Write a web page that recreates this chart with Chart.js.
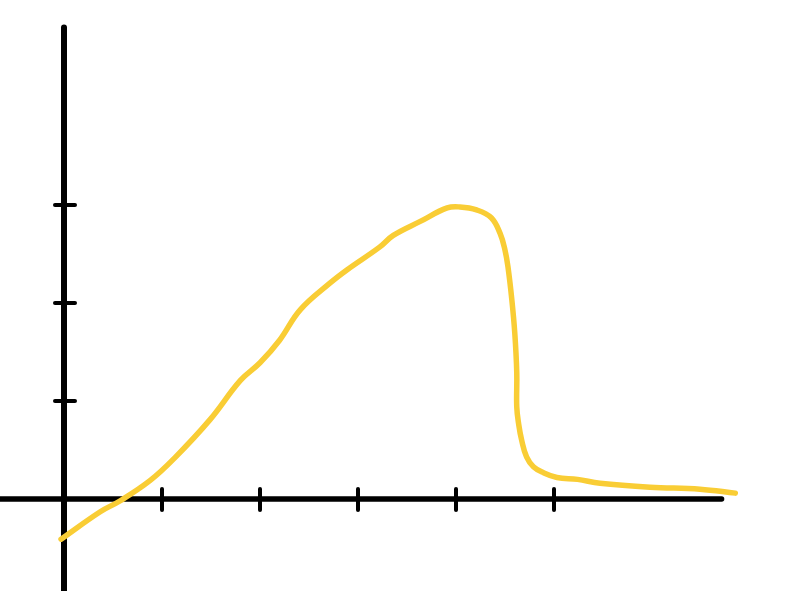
<!DOCTYPE html>
<html>
<head>
<meta charset="utf-8">
<script src="https://cdn.jsdelivr.net/npm/chart.js@4/dist/chart.umd.min.js"></script>
<style>
  html, body { margin: 0; padding: 0; background: #fff; }
  #wrap { width: 800px; height: 591px; position: relative; }
</style>
</head>
<body>
<div id="wrap"><canvas id="c"></canvas></div>
<script>
// Curve samples (x, y), in axis units
const curveX = [-0.03, 0.37, 0.57, 0.88, 1.13, 1.49, 1.80, 2.00, 2.20, 2.41, 2.71, 2.89, 3.22, 3.36, 3.63, 3.91, 4.04, 4.21, 4.36, 4.45, 4.50, 4.53, 4.57, 4.60, 4.62, 4.62, 4.64, 4.67, 4.72, 4.79, 4.89, 5.03, 5.24, 5.47, 5.98, 6.49, 6.85];
const curveY = [-0.41, -0.13, -0.02, 0.19, 0.42, 0.81, 1.21, 1.39, 1.62, 1.93, 2.20, 2.34, 2.57, 2.69, 2.83, 2.97, 2.98, 2.95, 2.87, 2.71, 2.54, 2.37, 2.03, 1.69, 1.29, 0.94, 0.76, 0.60, 0.43, 0.33, 0.27, 0.22, 0.20, 0.16, 0.12, 0.10, 0.06];

// Axis tick positions (unlabelled hand-drawn marks)
const xTicks = [1, 2, 3, 4, 5];
const yTicks = [1, 2, 3];

// Axis extents in axis units
const xAxisEnd = 6.71;
const yAxisTop = 4.81;

const points = curveX.map((x, i) => ({ x: x, y: curveY[i] }));

const axesPlugin = {
  id: 'handAxes',
  beforeDatasetsDraw(chart) {
    const ctx = chart.ctx;
    const xs = chart.scales.x, ys = chart.scales.y;
    const x0 = xs.getPixelForValue(0), y0 = ys.getPixelForValue(0);
    ctx.save();
    ctx.strokeStyle = '#000';
    ctx.lineCap = 'round';
    // x axis
    ctx.lineWidth = 5.5;
    ctx.beginPath();
    ctx.moveTo(xs.getPixelForValue(xs.min), y0);
    ctx.lineTo(xs.getPixelForValue(xAxisEnd), y0);
    ctx.stroke();
    // y axis
    ctx.lineWidth = 6;
    ctx.beginPath();
    ctx.moveTo(x0, ys.getPixelForValue(yAxisTop));
    ctx.lineTo(x0, ys.getPixelForValue(ys.min) + 10);
    ctx.stroke();
    // x ticks
    ctx.lineWidth = 4;
    xTicks.forEach(v => {
      const px = xs.getPixelForValue(v);
      ctx.beginPath();
      ctx.moveTo(px, y0 - 10);
      ctx.lineTo(px, y0 + 11);
      ctx.stroke();
    });
    // y ticks
    yTicks.forEach(v => {
      const py = ys.getPixelForValue(v);
      ctx.beginPath();
      ctx.moveTo(x0 - 9, py);
      ctx.lineTo(x0 + 11, py);
      ctx.stroke();
    });
    ctx.restore();
  }
};

new Chart(document.getElementById('c'), {
  type: 'line',
  data: {
    datasets: [{
      data: points,
      borderColor: '#F9CD35',
      borderWidth: 5.5,
      pointRadius: 0,
      fill: false,
      tension: 0.4,
      borderCapStyle: 'round',
      borderJoinStyle: 'round'
    }]
  },
  options: {
    responsive: true,
    maintainAspectRatio: false,
    animation: false,
    layout: { padding: 0 },
    plugins: { legend: { display: false }, tooltip: { enabled: false } },
    scales: {
      x: { type: 'linear', min: -64 / 98, max: 736 / 98, display: false },
      y: { type: 'linear', min: -92 / 98, max: 499 / 98, display: false }
    }
  },
  plugins: [axesPlugin]
});
</script>
</body>
</html>
